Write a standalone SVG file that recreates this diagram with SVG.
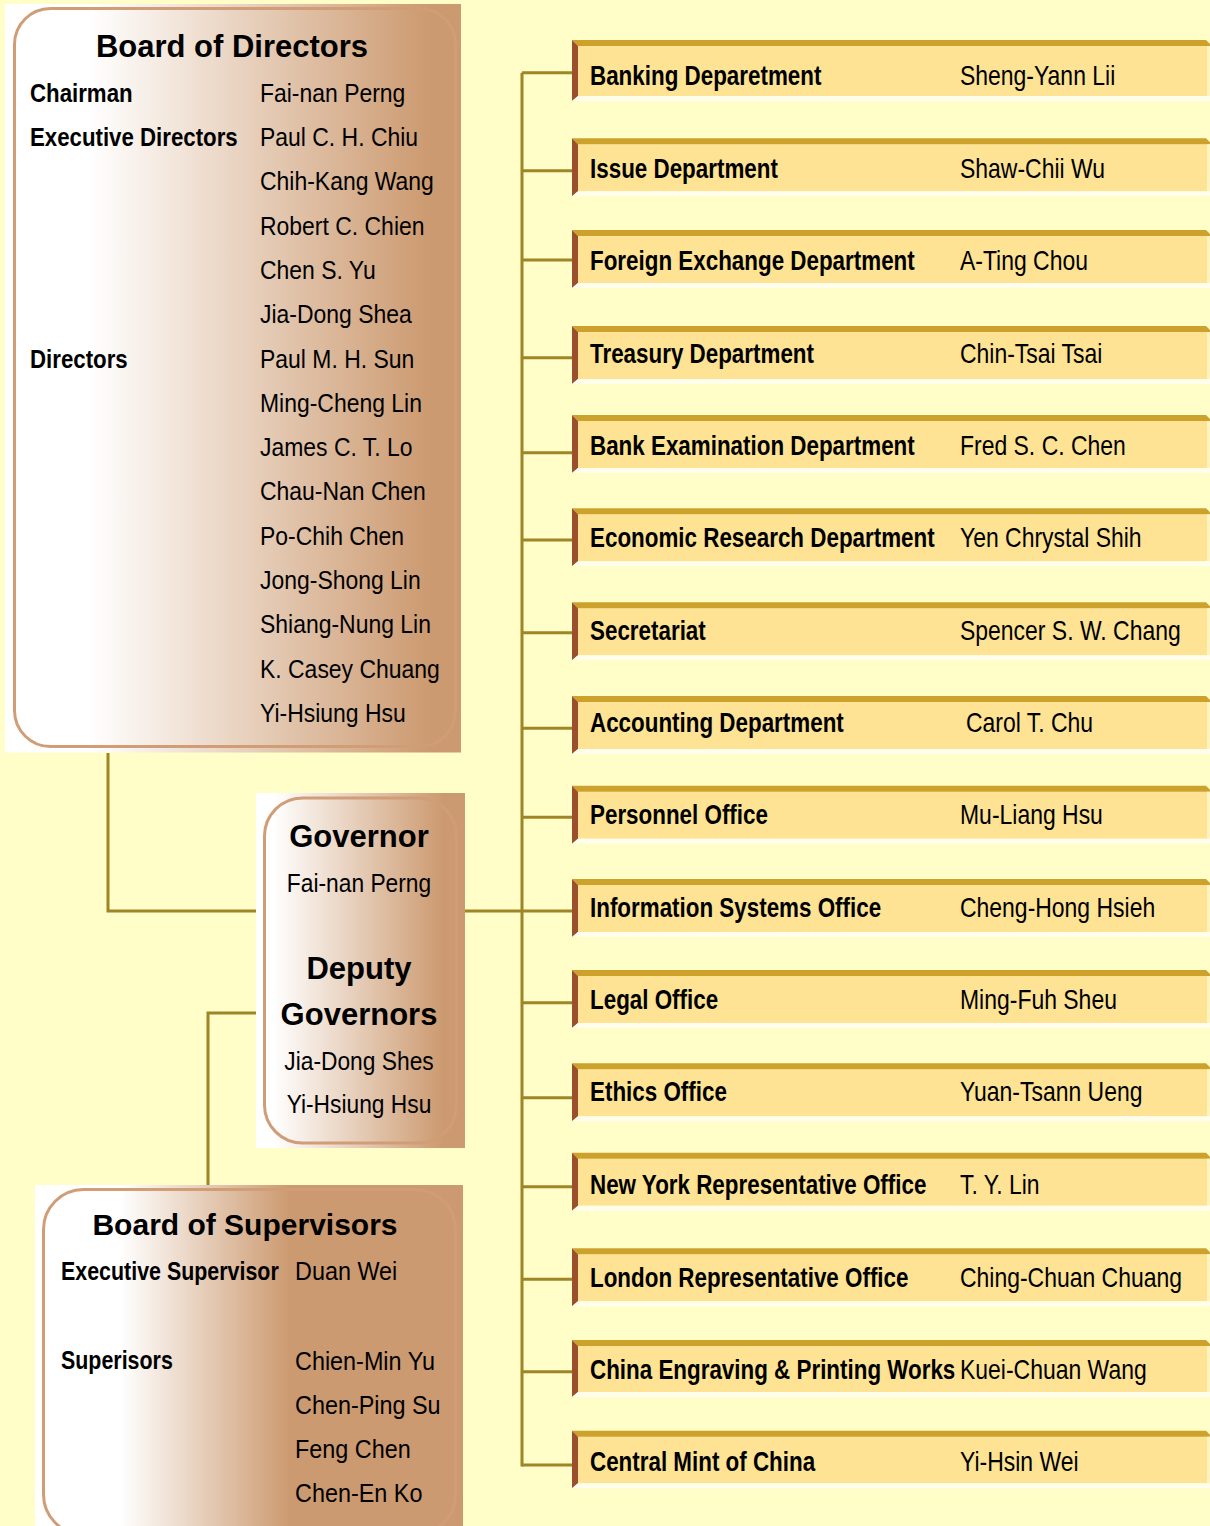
<svg xmlns="http://www.w3.org/2000/svg" width="1210" height="1526" viewBox="0 0 1210 1526">
<defs>
<linearGradient id="gBoard" gradientUnits="userSpaceOnUse" x1="90" y1="0" x2="430" y2="0"><stop offset="0" stop-color="#FFFFFF"/><stop offset="1" stop-color="#CC9A70"/></linearGradient>
<linearGradient id="gGov" gradientUnits="userSpaceOnUse" x1="273" y1="0" x2="443" y2="0"><stop offset="0" stop-color="#FFFFFF"/><stop offset="1" stop-color="#CC9A70"/></linearGradient>
<linearGradient id="gSup" gradientUnits="userSpaceOnUse" x1="120" y1="0" x2="290" y2="0"><stop offset="0" stop-color="#FFFFFF"/><stop offset="1" stop-color="#CC9A70"/></linearGradient>
</defs>
<style>
text{font-family:"Liberation Sans",Arial,sans-serif;fill:#000}
.h{font-size:30px;font-weight:bold}
.hg{font-size:31px;font-weight:bold;text-anchor:middle}
.bl{font-size:25px;font-weight:bold}
.bn{font-size:25.5px}
.gn{font-size:26.5px;text-anchor:middle}
.sl{font-size:25.5px;font-weight:bold}
.sn{font-size:26px}
.dl{font-size:28px;font-weight:bold}
.dn{font-size:28px}
.frame{fill:none;stroke:#D09D77;stroke-width:3}
.conn{fill:none;stroke:#9E8526;stroke-width:3}
.top{fill:#CDA22C}
.left{fill:#9C4F2D}
.bot{fill:#FFFDEB}
.rgt{fill:#FFF3C0}
.body{fill:#FDE393}
</style>
<rect x="0" y="0" width="1210" height="1526" fill="#FFFDC8"/>

<g id="connectors">
<path class="conn" d="M522,72.7 V1466.5"/>
<path class="conn" d="M522,72.7 H572 M522,170.7 H572 M522,260 H572 M522,357.7 H572 M522,452.7 H572 M522,540 H572 M522,632.7 H572 M522,728.3 H572 M522,817.3 H572 M522,911 H572 M522,1002.7 H572 M522,1097.7 H572 M522,1186.7 H572 M522,1279.3 H572 M522,1371.7 H572 M522,1465 H572"/>
<path class="conn" d="M465,911 H522"/>
<path class="conn" d="M108,753 V911 H256"/>
<path class="conn" d="M256,1013 H208 V1185"/>
</g>

<g id="board-of-directors">
<rect x="5" y="4" width="456" height="748.5" fill="url(#gBoard)"/>
<rect class="frame" x="14.5" y="8.5" width="441" height="738" rx="36"/>
<text class="h" x="232" y="57" text-anchor="middle" style="font-size:31px">Board of Directors</text>
<text class="bl" transform="translate(30 101.7) scale(0.89 1)">Chairman</text>
<text class="bl" transform="translate(30 146) scale(0.89 1)">Executive Directors</text>
<text class="bl" transform="translate(30 367.5) scale(0.89 1)">Directors</text>
<text class="bn" transform="translate(260 101.7) scale(0.9 1)">Fai-nan Perng</text>
<text class="bn" transform="translate(260 146) scale(0.9 1)">Paul C. H. Chiu</text>
<text class="bn" transform="translate(260 190.3) scale(0.9 1)">Chih-Kang Wang</text>
<text class="bn" transform="translate(260 234.6) scale(0.9 1)">Robert C. Chien</text>
<text class="bn" transform="translate(260 278.9) scale(0.9 1)">Chen S. Yu</text>
<text class="bn" transform="translate(260 323.2) scale(0.9 1)">Jia-Dong Shea</text>
<text class="bn" transform="translate(260 367.5) scale(0.9 1)">Paul M. H. Sun</text>
<text class="bn" transform="translate(260 411.8) scale(0.9 1)">Ming-Cheng Lin</text>
<text class="bn" transform="translate(260 456.1) scale(0.9 1)">James C. T. Lo</text>
<text class="bn" transform="translate(260 500.4) scale(0.9 1)">Chau-Nan Chen</text>
<text class="bn" transform="translate(260 544.7) scale(0.9 1)">Po-Chih Chen</text>
<text class="bn" transform="translate(260 589) scale(0.9 1)">Jong-Shong Lin</text>
<text class="bn" transform="translate(260 633.3) scale(0.9 1)">Shiang-Nung Lin</text>
<text class="bn" transform="translate(260 677.6) scale(0.9 1)">K. Casey Chuang</text>
<text class="bn" transform="translate(260 721.9) scale(0.9 1)">Yi-Hsiung Hsu</text>
</g>

<g id="governor">
<rect x="256" y="793" width="209" height="355" fill="url(#gGov)"/>
<rect class="frame" x="264.5" y="798" width="192" height="345" rx="38"/>
<text class="hg" x="359" y="847">Governor</text>
<text class="gn" transform="translate(359 892) scale(0.86 1)">Fai-nan Perng</text>
<text class="hg" x="359" y="979">Deputy</text>
<text class="hg" x="359" y="1025">Governors</text>
<text class="gn" transform="translate(359 1070) scale(0.86 1)">Jia-Dong Shes</text>
<text class="gn" transform="translate(359 1113) scale(0.86 1)">Yi-Hsiung Hsu</text>
</g>

<g id="board-of-supervisors">
<rect x="35" y="1185" width="428" height="341" fill="url(#gSup)"/>
<rect class="frame" x="43.5" y="1189.5" width="412" height="345" rx="40"/>
<text class="h" x="245" y="1235" text-anchor="middle">Board of Supervisors</text>
<text class="sl" transform="translate(61 1280) scale(0.84 1)">Executive Supervisor</text>
<text class="sn" transform="translate(295 1280) scale(0.9 1)">Duan Wei</text>
<text class="sl" transform="translate(61 1369) scale(0.84 1)">Superisors</text>
<text class="sn" transform="translate(295 1370) scale(0.9 1)">Chien-Min Yu</text>
<text class="sn" transform="translate(295 1414) scale(0.9 1)">Chen-Ping Su</text>
<text class="sn" transform="translate(295 1457.5) scale(0.9 1)">Feng Chen</text>
<text class="sn" transform="translate(295 1501.5) scale(0.9 1)">Chen-En Ko</text>
</g>

<g id="dept-banking">
<rect class="body" x="578" y="46" width="632" height="50"/>
<polygon class="top" points="572,40 1206,40 1210,44 1210,46 578,46"/>
<polygon class="rgt" points="1207,46 1210,46 1210,101 1207,96"/>
<polygon class="left" points="572,40 578,46 578,96 572,101"/>
<polygon class="bot" points="572,101 578,96 1210,96 1210,101"/>
<text class="dl" transform="translate(590 85) scale(0.8 1)">Banking Deparetment</text>
<text class="dn" transform="translate(960 85) scale(0.82 1)">Sheng-Yann Lii</text>
</g>

<g id="dept-issue">
<rect class="body" x="578" y="144.3" width="632" height="47"/>
<polygon class="top" points="572,138.3 1206,138.3 1210,142.3 1210,144.3 578,144.3"/>
<polygon class="rgt" points="1207,144.3 1210,144.3 1210,196.3 1207,191.3"/>
<polygon class="left" points="572,138.3 578,144.3 578,191.3 572,196.3"/>
<polygon class="bot" points="572,196.3 578,191.3 1210,191.3 1210,196.3"/>
<text class="dl" transform="translate(590 178) scale(0.8 1)">Issue Department</text>
<text class="dn" transform="translate(960 178) scale(0.82 1)">Shaw-Chii Wu</text>
</g>

<g id="dept-foreign-exchange">
<rect class="body" x="578" y="236" width="632" height="47"/>
<polygon class="top" points="572,230 1206,230 1210,234 1210,236 578,236"/>
<polygon class="rgt" points="1207,236 1210,236 1210,288 1207,283"/>
<polygon class="left" points="572,230 578,236 578,283 572,288"/>
<polygon class="bot" points="572,288 578,283 1210,283 1210,288"/>
<text class="dl" transform="translate(590 270) scale(0.8 1)">Foreign Exchange Department</text>
<text class="dn" transform="translate(960 270) scale(0.82 1)">A-Ting Chou</text>
</g>

<g id="dept-treasury">
<rect class="body" x="578" y="332" width="632" height="47"/>
<polygon class="top" points="572,326 1206,326 1210,330 1210,332 578,332"/>
<polygon class="rgt" points="1207,332 1210,332 1210,384 1207,379"/>
<polygon class="left" points="572,326 578,332 578,379 572,384"/>
<polygon class="bot" points="572,384 578,379 1210,379 1210,384"/>
<text class="dl" transform="translate(590 363) scale(0.8 1)">Treasury Department</text>
<text class="dn" transform="translate(960 363) scale(0.82 1)">Chin-Tsai Tsai</text>
</g>

<g id="dept-bank-examination">
<rect class="body" x="578" y="421" width="632" height="47"/>
<polygon class="top" points="572,415 1206,415 1210,419 1210,421 578,421"/>
<polygon class="rgt" points="1207,421 1210,421 1210,473 1207,468"/>
<polygon class="left" points="572,415 578,421 578,468 572,473"/>
<polygon class="bot" points="572,473 578,468 1210,468 1210,473"/>
<text class="dl" transform="translate(590 455) scale(0.8 1)">Bank Examination Department</text>
<text class="dn" transform="translate(960 455) scale(0.82 1)">Fred S. C. Chen</text>
</g>

<g id="dept-economic-research">
<rect class="body" x="578" y="514.3" width="632" height="47"/>
<polygon class="top" points="572,508.3 1206,508.3 1210,512.3 1210,514.3 578,514.3"/>
<polygon class="rgt" points="1207,514.3 1210,514.3 1210,566.3 1207,561.3"/>
<polygon class="left" points="572,508.3 578,514.3 578,561.3 572,566.3"/>
<polygon class="bot" points="572,566.3 578,561.3 1210,561.3 1210,566.3"/>
<text class="dl" transform="translate(590 547) scale(0.8 1)">Economic Research Department</text>
<text class="dn" transform="translate(960 547) scale(0.82 1)">Yen Chrystal Shih</text>
</g>

<g id="dept-secretariat">
<rect class="body" x="578" y="608.3" width="632" height="47"/>
<polygon class="top" points="572,602.3 1206,602.3 1210,606.3 1210,608.3 578,608.3"/>
<polygon class="rgt" points="1207,608.3 1210,608.3 1210,660.3 1207,655.3"/>
<polygon class="left" points="572,602.3 578,608.3 578,655.3 572,660.3"/>
<polygon class="bot" points="572,660.3 578,655.3 1210,655.3 1210,660.3"/>
<text class="dl" transform="translate(590 640) scale(0.8 1)">Secretariat</text>
<text class="dn" transform="translate(960 640) scale(0.82 1)">Spencer S. W. Chang</text>
</g>

<g id="dept-accounting">
<rect class="body" x="578" y="702" width="632" height="47"/>
<polygon class="top" points="572,696 1206,696 1210,700 1210,702 578,702"/>
<polygon class="rgt" points="1207,702 1210,702 1210,754 1207,749"/>
<polygon class="left" points="572,696 578,702 578,749 572,754"/>
<polygon class="bot" points="572,754 578,749 1210,749 1210,754"/>
<text class="dl" transform="translate(590 732) scale(0.8 1)">Accounting Department</text>
<text class="dn" transform="translate(966 732) scale(0.82 1)">Carol T. Chu</text>
</g>

<g id="office-personnel">
<rect class="body" x="578" y="791.7" width="632" height="47"/>
<polygon class="top" points="572,785.7 1206,785.7 1210,789.7 1210,791.7 578,791.7"/>
<polygon class="rgt" points="1207,791.7 1210,791.7 1210,843.7 1207,838.7"/>
<polygon class="left" points="572,785.7 578,791.7 578,838.7 572,843.7"/>
<polygon class="bot" points="572,843.7 578,838.7 1210,838.7 1210,843.7"/>
<text class="dl" transform="translate(590 824) scale(0.8 1)">Personnel Office</text>
<text class="dn" transform="translate(960 824) scale(0.82 1)">Mu-Liang Hsu</text>
</g>

<g id="office-information-systems">
<rect class="body" x="578" y="885" width="632" height="47"/>
<polygon class="top" points="572,879 1206,879 1210,883 1210,885 578,885"/>
<polygon class="rgt" points="1207,885 1210,885 1210,937 1207,932"/>
<polygon class="left" points="572,879 578,885 578,932 572,937"/>
<polygon class="bot" points="572,937 578,932 1210,932 1210,937"/>
<text class="dl" transform="translate(590 917) scale(0.8 1)">Information Systems Office</text>
<text class="dn" transform="translate(960 917) scale(0.82 1)">Cheng-Hong Hsieh</text>
</g>

<g id="office-legal">
<rect class="body" x="578" y="976" width="632" height="47"/>
<polygon class="top" points="572,970 1206,970 1210,974 1210,976 578,976"/>
<polygon class="rgt" points="1207,976 1210,976 1210,1028 1207,1023"/>
<polygon class="left" points="572,970 578,976 578,1023 572,1028"/>
<polygon class="bot" points="572,1028 578,1023 1210,1023 1210,1028"/>
<text class="dl" transform="translate(590 1009) scale(0.8 1)">Legal Office</text>
<text class="dn" transform="translate(960 1009) scale(0.82 1)">Ming-Fuh Sheu</text>
</g>

<g id="office-ethics">
<rect class="body" x="578" y="1069.3" width="632" height="47"/>
<polygon class="top" points="572,1063.3 1206,1063.3 1210,1067.3 1210,1069.3 578,1069.3"/>
<polygon class="rgt" points="1207,1069.3 1210,1069.3 1210,1121.3 1207,1116.3"/>
<polygon class="left" points="572,1063.3 578,1069.3 578,1116.3 572,1121.3"/>
<polygon class="bot" points="572,1121.3 578,1116.3 1210,1116.3 1210,1121.3"/>
<text class="dl" transform="translate(590 1101) scale(0.8 1)">Ethics Office</text>
<text class="dn" transform="translate(960 1101) scale(0.82 1)">Yuan-Tsann Ueng</text>
</g>

<g id="office-new-york">
<rect class="body" x="578" y="1158.7" width="632" height="47"/>
<polygon class="top" points="572,1152.7 1206,1152.7 1210,1156.7 1210,1158.7 578,1158.7"/>
<polygon class="rgt" points="1207,1158.7 1210,1158.7 1210,1210.7 1207,1205.7"/>
<polygon class="left" points="572,1152.7 578,1158.7 578,1205.7 572,1210.7"/>
<polygon class="bot" points="572,1210.7 578,1205.7 1210,1205.7 1210,1210.7"/>
<text class="dl" transform="translate(590 1194) scale(0.8 1)">New York Representative Office</text>
<text class="dn" transform="translate(960 1194) scale(0.82 1)">T. Y. Lin</text>
</g>

<g id="office-london">
<rect class="body" x="578" y="1254.3" width="632" height="47"/>
<polygon class="top" points="572,1248.3 1206,1248.3 1210,1252.3 1210,1254.3 578,1254.3"/>
<polygon class="rgt" points="1207,1254.3 1210,1254.3 1210,1306.3 1207,1301.3"/>
<polygon class="left" points="572,1248.3 578,1254.3 578,1301.3 572,1306.3"/>
<polygon class="bot" points="572,1306.3 578,1301.3 1210,1301.3 1210,1306.3"/>
<text class="dl" transform="translate(590 1287) scale(0.8 1)">London Representative Office</text>
<text class="dn" transform="translate(960 1287) scale(0.82 1)">Ching-Chuan Chuang</text>
</g>

<g id="china-engraving">
<rect class="body" x="578" y="1346" width="632" height="46"/>
<polygon class="top" points="572,1340 1206,1340 1210,1344 1210,1346 578,1346"/>
<polygon class="rgt" points="1207,1346 1210,1346 1210,1397 1207,1392"/>
<polygon class="left" points="572,1340 578,1346 578,1392 572,1397"/>
<polygon class="bot" points="572,1397 578,1392 1210,1392 1210,1397"/>
<text class="dl" transform="translate(590 1379) scale(0.8 1)">China Engraving &amp; Printing Works</text>
<text class="dn" transform="translate(960 1379) scale(0.82 1)">Kuei-Chuan Wang</text>
</g>

<g id="central-mint">
<rect class="body" x="578" y="1436.7" width="632" height="46.6"/>
<polygon class="top" points="572,1430.7 1206,1430.7 1210,1434.7 1210,1436.7 578,1436.7"/>
<polygon class="rgt" points="1207,1436.7 1210,1436.7 1210,1488.3 1207,1483.3"/>
<polygon class="left" points="572,1430.7 578,1436.7 578,1483.3 572,1488.3"/>
<polygon class="bot" points="572,1488.3 578,1483.3 1210,1483.3 1210,1488.3"/>
<text class="dl" transform="translate(590 1471) scale(0.8 1)">Central Mint of China</text>
<text class="dn" transform="translate(960 1471) scale(0.82 1)">Yi-Hsin Wei</text>
</g>
</svg>
